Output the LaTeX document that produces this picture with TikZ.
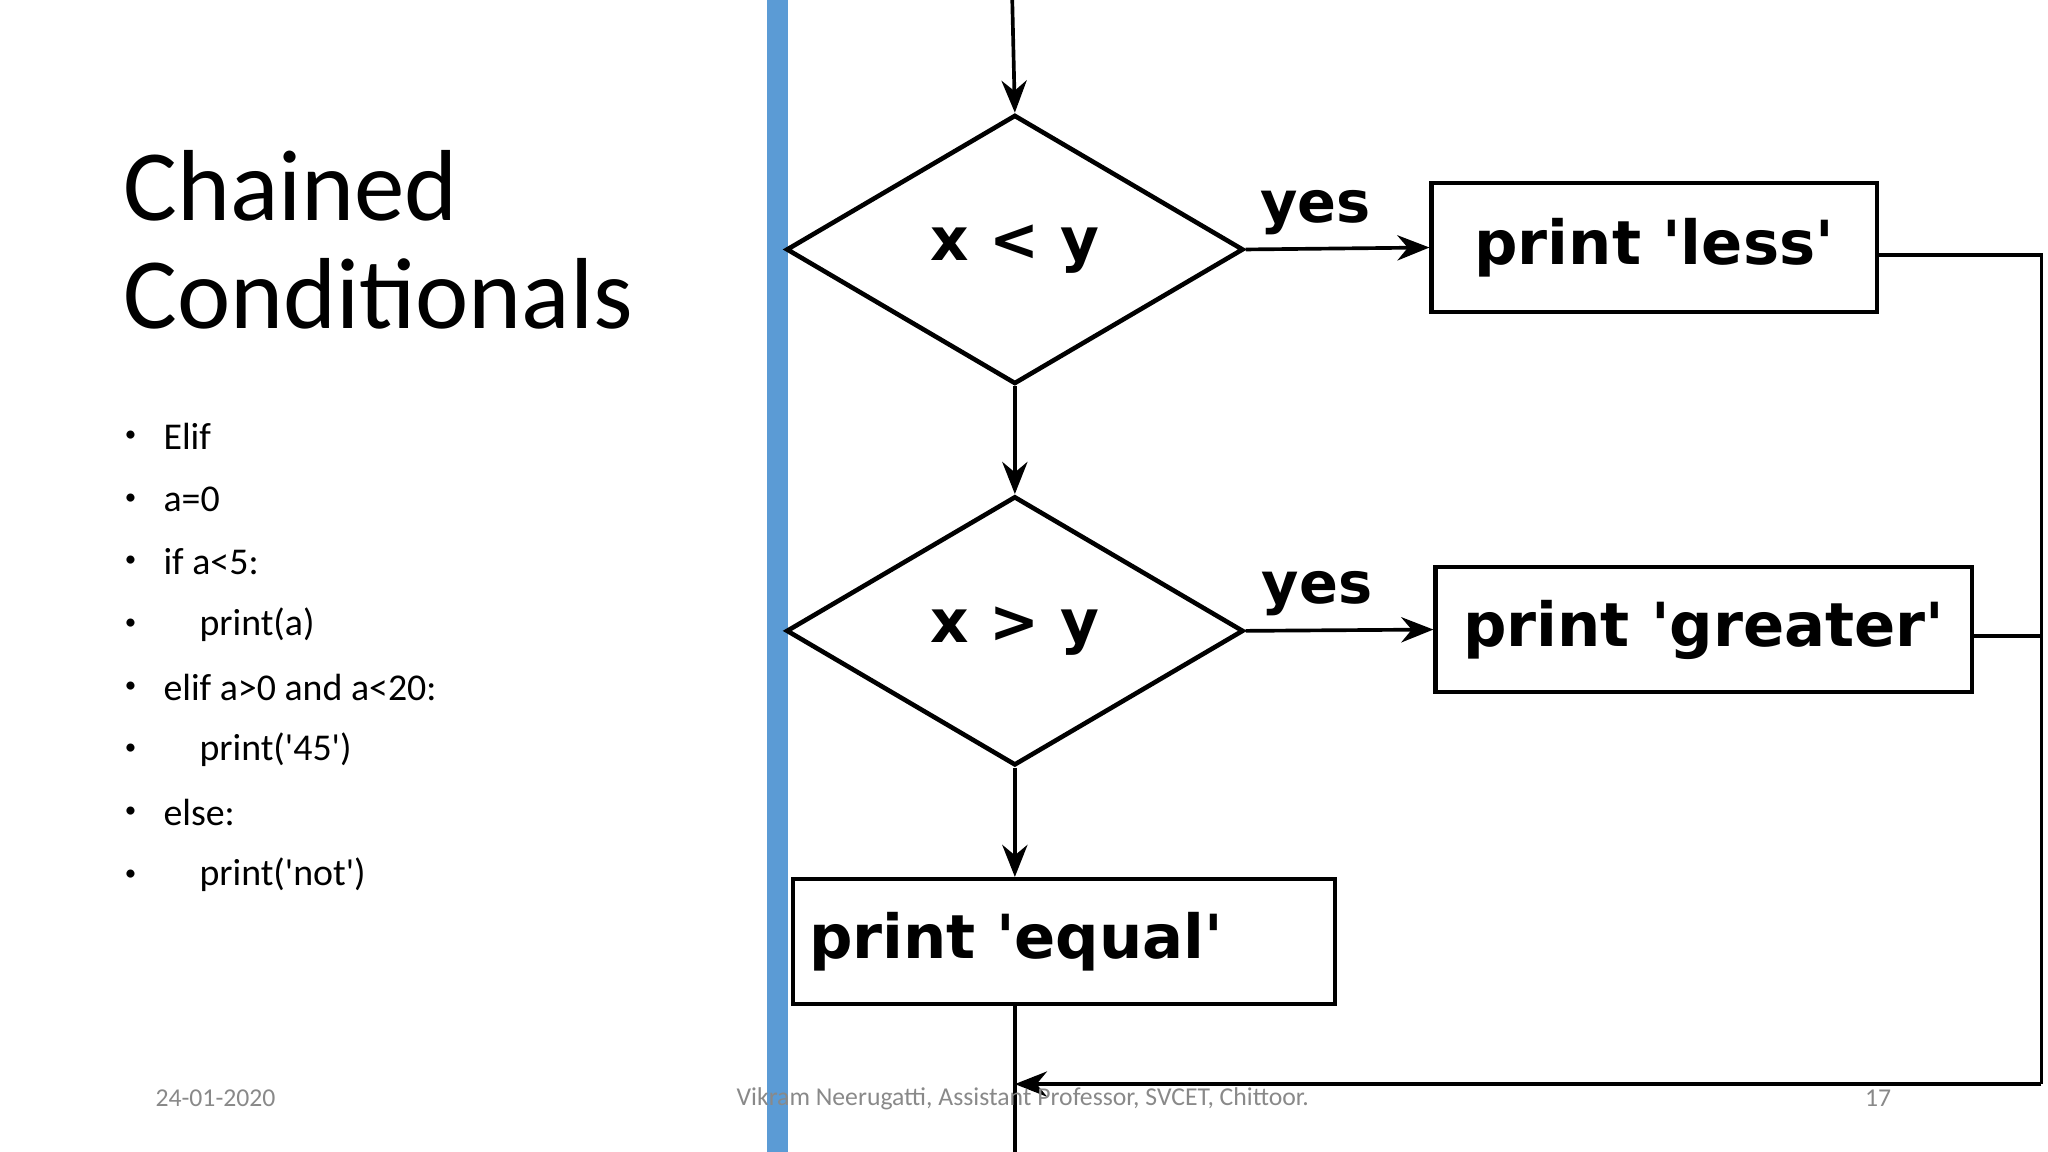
\documentclass[tikz,border=0pt]{standalone}
\usepackage{fontspec}
\setmainfont{Carlito}
\newfontfamily\djfont{DejaVu Sans}
\usetikzlibrary{shapes.geometric,arrows.meta}
\definecolor{barblue}{HTML}{5B9BD5}
\definecolor{foot}{HTML}{898989}
\newcommand{\q}{\textquotesingle}
\begin{document}
\begin{tikzpicture}[x=0.02cm,y=-0.02cm,
  ln/.style={line width=1.6pt},
  arr/.style={ln,-{Stealth[length=14pt,width=11pt]}},
  dia/.style={diamond,draw,line width=2pt,minimum width=350*0.02cm,minimum height=206*0.02cm,inner sep=0pt,font=\djfont\bfseries\fontsize{26}{30}\selectfont,aspect=1.7},
  bx/.style={draw,line width=1.8pt,inner sep=0pt,font=\djfont\bfseries\fontsize{26.5}{32}\selectfont},
  bul/.style={anchor=west,font=\fontsize{16.5}{18}\selectfont},
  ft/.style={font=\fontsize{11.2}{12}\selectfont,text=foot}]
\useasboundingbox (0,0) rectangle (1568,882);
\fill[barblue] (587,0) rectangle (603,882);
\node[anchor=north west,align=left,font=\fontsize{44}{47}\selectfont,inner sep=0pt] (title) at (94,115) {Chained\\Conditionals};
\foreach \t [count=\i from 0] in {Elif,a=0,if a<5:,\hspace{0.95em}print(a),elif a>0 and a<20:,\hspace{0.95em}print(\q45\q),else:,\hspace{0.95em}print(\q not\q)}{
  \node[anchor=center] (b\i) at (100,334+48*\i) {\textbullet};
  \node[bul] (t\i) at (119,334+48*\i) {\t};
}
\coordinate (top) at (775,0);
\node[dia] (d1) at (777,191) {x < y};
\node[dia] (d2) at (777,483) {x > y};
\node[bx,minimum width=341*0.02cm,minimum height=99*0.02cm] (less) at (1266.5,189.5) {print 'less'};
\node[bx,minimum width=411*0.02cm,minimum height=96*0.02cm] (gr) at (1304.5,482) {print 'greater'};
\node[bx,minimum width=415*0.02cm,minimum height=96*0.02cm,text width=390*0.02cm,align=left] (eq) at (814.5,721) {print 'equal'};
\coordinate (r1) at (1563,195);
\coordinate (r2) at (1563,487);
\coordinate (rb) at (1563,830);
\coordinate (m) at (777,830);
\coordinate (bot) at (777,882);
\draw[arr] (top) -- (d1.north);
\draw[arr] (d1.south) -- (d2.north);
\draw[arr] (d2.south) -- (eq.north -| d2.south);
\draw[arr] (d1.east) -- node[above,font=\djfont\bfseries\fontsize{25}{28}\selectfont,pos=0.38,yshift=2pt]{yes} (less.west);
\draw[arr] (d2.east) -- node[above,font=\djfont\bfseries\fontsize{25}{28}\selectfont,pos=0.38,yshift=2pt]{yes} (gr.west);
\draw[ln] (less.east |- r1) -- (r1) -- (rb);
\draw[ln] (gr.east |- r2) -- (r2);
\draw[arr] (rb) -- (m);
\draw[ln] (eq.south -| m) -- (bot);
\node[ft] (f1) at (165,841) {24-01-2020};
\node[ft] (f2) at (783,841) {Vikram Neerugatti, Assistant Professor, SVCET, Chittoor.};
\node[ft] (f3) at (1438,841) {17};
\end{tikzpicture}
\end{document}
